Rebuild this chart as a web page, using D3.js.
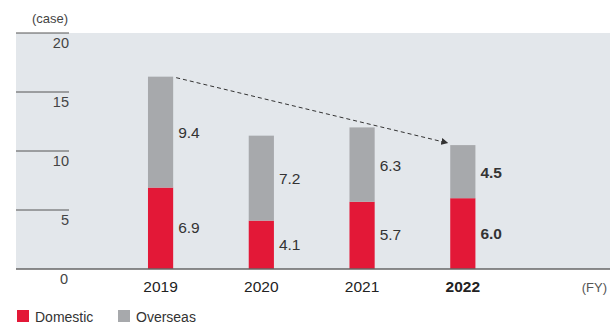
<!DOCTYPE html>
<html>
<head>
<meta charset="utf-8">
<script src="https://cdn.jsdelivr.net/npm/d3@7"></script>
<style>
  body { margin: 0; background: #fff; }
  svg { display: block; font-family: "Liberation Sans", Arial, sans-serif; }
</style>
</head>
<body>
<div class="chart"></div>
<script>
const years = ["2019", "2020", "2021", "2022"];
const domestic = [6.9, 4.1, 5.7, 6.0];
const overseas = [9.4, 7.2, 6.3, 4.5];
const yTicks = [0, 5, 10, 15, 20];

const width = 610, height = 323;
const plotLeft = 16, tickRight = 69, plotTop = 33, plotBottom = 269;

const svg = d3.select("div.chart").append("svg")
  .attr("width", width)
  .attr("height", height);

const x = d3.scaleBand()
  .domain(years)
  .range([110.2, 513.2])
  .paddingInner(0.75)
  .paddingOuter(0.375);

const y = d3.scaleLinear()
  .domain([0, 20])
  .range([plotBottom, plotTop]);

// plot background
svg.append("rect")
  .attr("x", plotLeft)
  .attr("y", plotTop)
  .attr("width", width - plotLeft)
  .attr("height", plotBottom - plotTop)
  .attr("fill", "#e3e7eb");

// y ticks: short lines with labels hanging under them
svg.selectAll("line.ytick")
  .data(yTicks.filter(d => d > 0))
  .enter().append("line")
  .attr("class", "ytick")
  .attr("x1", plotLeft)
  .attr("x2", tickRight)
  .attr("y1", d => y(d))
  .attr("y2", d => y(d))
  .attr("stroke", "#555")
  .attr("stroke-width", 1);

svg.selectAll("text.ytick")
  .data(yTicks)
  .enter().append("text")
  .attr("class", "ytick")
  .attr("x", d => d === 0 ? 68 : tickRight)
  .attr("y", d => y(d) + 15)
  .attr("text-anchor", "end")
  .attr("fill", "#444")
  .style("font-size", "14.5px")
  .text(d => d);

svg.append("text")
  .attr("x", 68)
  .attr("y", 23)
  .attr("text-anchor", "end")
  .attr("fill", "#444")
  .style("font-size", "13px")
  .text("(case)");

// stacked bars
const rows = years.map((yr, i) => ({ year: yr, dom: domestic[i], ovs: overseas[i], bold: i === years.length - 1 }));

svg.selectAll("rect.dom")
  .data(rows)
  .enter().append("rect")
  .attr("class", "dom")
  .attr("x", d => x(d.year))
  .attr("width", x.bandwidth())
  .attr("y", d => y(d.dom))
  .attr("height", d => y(0) - y(d.dom))
  .attr("fill", "#e31837");

svg.selectAll("rect.ovs")
  .data(rows)
  .enter().append("rect")
  .attr("class", "ovs")
  .attr("x", d => x(d.year))
  .attr("width", x.bandwidth())
  .attr("y", d => y(d.dom + d.ovs))
  .attr("height", d => y(d.dom) - y(d.dom + d.ovs))
  .attr("fill", "#a7a9ac");

// value labels
const labelX = d => x(d.year) + x.bandwidth() + 5;
svg.selectAll("text.domv")
  .data(rows)
  .enter().append("text")
  .attr("x", labelX)
  .attr("y", d => (y(0) + y(d.dom)) / 2 + 5)
  .attr("fill", "#333")
  .style("font-size", "15.5px")
  .style("font-weight", d => d.bold ? "bold" : "normal")
  .text(d => d.dom.toFixed(1));

svg.selectAll("text.ovsv")
  .data(rows)
  .enter().append("text")
  .attr("x", labelX)
  .attr("y", d => (y(d.dom) + y(d.dom + d.ovs)) / 2 + 6)
  .attr("fill", "#333")
  .style("font-size", "15.5px")
  .style("font-weight", d => d.bold ? "bold" : "normal")
  .text(d => d.ovs.toFixed(1));

// baseline
svg.append("line")
  .attr("x1", plotLeft)
  .attr("x2", width)
  .attr("y1", y(0))
  .attr("y2", y(0))
  .attr("stroke", "#666")
  .attr("stroke-width", 1.5);

// x labels
svg.selectAll("text.xlab")
  .data(rows)
  .enter().append("text")
  .attr("x", d => x(d.year) + x.bandwidth() / 2)
  .attr("y", 292)
  .attr("text-anchor", "middle")
  .attr("fill", "#222")
  .style("font-size", "15.5px")
  .style("font-weight", d => d.bold ? "bold" : "normal")
  .text(d => d.year);

svg.append("text")
  .attr("x", 607)
  .attr("y", 292)
  .attr("text-anchor", "end")
  .attr("fill", "#555")
  .style("font-size", "13px")
  .text("(FY)");

// dashed trend arrow from first to last total
svg.append("defs").append("marker")
  .attr("id", "arrow")
  .attr("viewBox", "0 -5 10 10")
  .attr("refX", 10)
  .attr("refY", 0)
  .attr("markerWidth", 7)
  .attr("markerHeight", 7)
  .attr("markerUnits", "userSpaceOnUse")
  .attr("orient", "auto")
  .append("path")
  .attr("d", "M0,-5L10,0L0,5Z")
  .attr("fill", "#333");

const first = rows[0], last = rows[rows.length - 1];
svg.append("line")
  .attr("x1", x(first.year) + x.bandwidth() + 3)
  .attr("y1", y(first.dom + first.ovs) + 1)
  .attr("x2", x(last.year) - 2)
  .attr("y2", y(last.dom + last.ovs) - 2)
  .attr("stroke", "#333")
  .attr("stroke-width", 1)
  .attr("stroke-dasharray", "4,3")
  .attr("marker-end", "url(#arrow)");

// legend
const legend = [["Domestic", "#e31837"], ["Overseas", "#a7a9ac"]];
const lg = svg.selectAll("g.legend")
  .data(legend)
  .enter().append("g")
  .attr("transform", (d, i) => `translate(${17 + i * 101},310)`);
lg.append("rect")
  .attr("width", 12)
  .attr("height", 12)
  .attr("fill", d => d[1]);
lg.append("text")
  .attr("x", 18)
  .attr("y", 11.5)
  .attr("fill", "#333")
  .style("font-size", "14px")
  .text(d => d[0]);
</script>
</body>
</html>
